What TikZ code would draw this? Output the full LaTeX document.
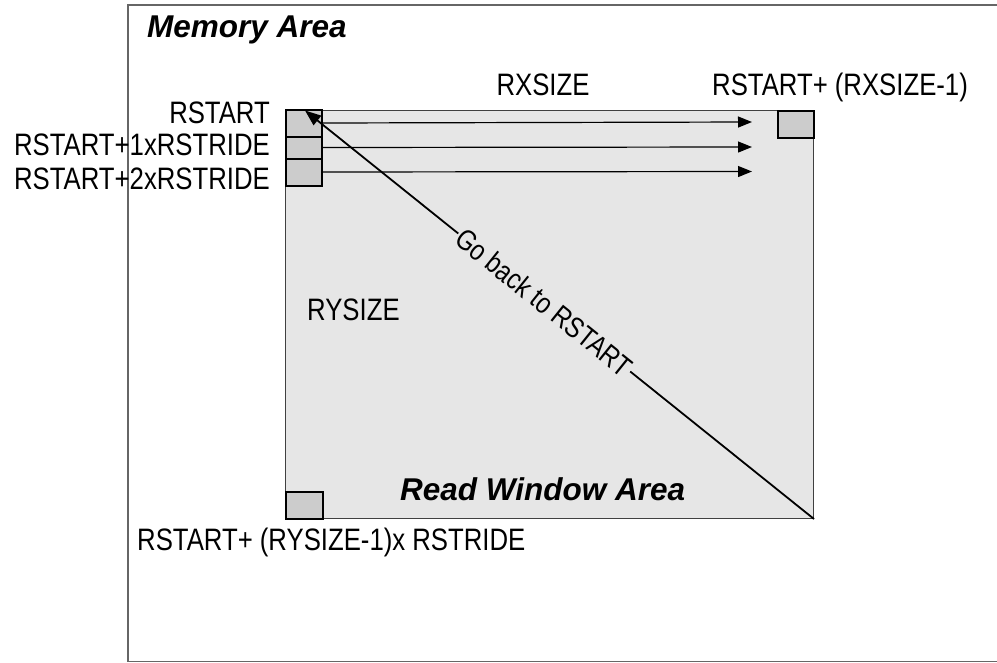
\documentclass[tikz,border=0pt]{standalone}
\usepackage{fontspec}
\setmainfont{Liberation Sans}
\newfontfamily\narrowfont[FakeStretch=0.83]{Liberation Sans}
\usetikzlibrary{arrows.meta}
\definecolor{winfill}{HTML}{E6E6E6}
\definecolor{cellfill}{HTML}{CCCCCC}
\tikzset{
  lbl/.style={font=\narrowfont\fontsize{31}{36}\selectfont, inner sep=0pt, text=black},
  title/.style={font=\fontsize{31.5}{36}\selectfont\bfseries\itshape, inner sep=0pt},
  cell/.style={draw=black, fill=cellfill, line width=2pt, minimum width=36pt, inner sep=0pt, anchor=north west},
  win/.style={draw=black!75, fill=winfill, line width=1pt, inner sep=0pt, anchor=north west},
  frame/.style={draw=black!60, line width=1.5pt},
  arr/.style={line width=1.2pt, -{Triangle[length=14pt,width=11pt]}},
  diag/.style={line width=1.8pt, -{Triangle[length=16pt,width=12pt]}}
}
\begin{document}
\begin{tikzpicture}[x=1pt,y=-1pt]
\useasboundingbox (0,0) rectangle (997,662);
% memory area frame
\node[minimum width=880pt, minimum height=656pt, inner sep=0pt, anchor=north west] (mem) at (128,5) {};
\draw[frame] (mem.north east) -- (mem.north west) -- (mem.south west) -- (mem.south east);
% read window
\node[win, minimum width=528pt, minimum height=408pt] (win) at (285,110) {};
% cells
\node[cell, minimum height=27pt] (b1) at (285,108.5) {};
\node[cell, minimum height=22pt] (b2) at (285,135.5) {};
\node[cell, minimum height=27pt] (b3) at (285,157.5) {};
\node[cell, minimum height=27pt, minimum width=36pt] (bx) at (777,110) {};
\node[cell, minimum height=27pt, minimum width=37pt] (by) at (285,491) {};
% arrow ends
\coordinate (e1) at (752,122);
\coordinate (e2) at (752,147);
\coordinate (e3) at (752,171.5);
\coordinate (tip) at (305,110.5);
\draw[arr] (b1.east) -- (e1);
\draw[arr] (b2.east) -- (e2);
\draw[arr] (b3.east) -- (e3);
\draw[diag] (win.south east) -- node[pos=0.53, sloped, fill=winfill, inner sep=1.5pt, font=\narrowfont\fontsize{29}{34}\selectfont] (gb) {Go back to RSTART} (tip);
% labels
\node[title, anchor=base west] (tmem) at (147,37) {Memory Area};
\node[title, anchor=base west] (twin) at (400,500) {Read Window Area};
\node[lbl, anchor=base] (rx) at (543,95) {RXSIZE};
\node[lbl, anchor=base west] (rxe) at (712,95) {RSTART+ (RXSIZE-1)};
\node[lbl, anchor=base east] (r0) at (270,123) {RSTART};
\node[lbl, anchor=base east] (r1) at (270,155) {RSTART+1xRSTRIDE};
\node[lbl, anchor=base east] (r2) at (270,189) {RSTART+2xRSTRIDE};
\node[lbl, anchor=base west] (ry) at (307,320) {RYSIZE};
\node[lbl, anchor=base west] (rye) at (137,550) {RSTART+ (RYSIZE-1)x RSTRIDE};
\end{tikzpicture}
\end{document}
